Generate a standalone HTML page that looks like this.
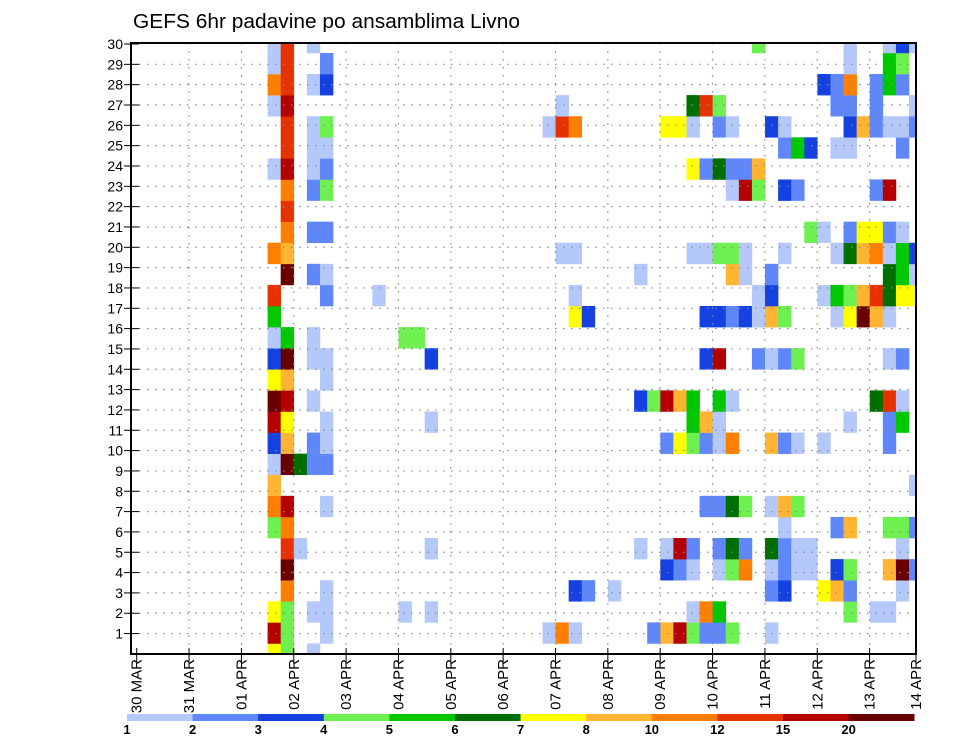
<!DOCTYPE html>
<html>
<head>
<meta charset="utf-8">
<style>
  html, body { margin: 0; padding: 0; background: #ffffff; }
  svg { display: block; font-family: "Liberation Sans", sans-serif; }
</style>
</head>
<body>
<svg id="chart" width="960" height="742" viewBox="0 0 960 742" xmlns="http://www.w3.org/2000/svg">
  <rect x="0" y="0" width="960" height="742" fill="#ffffff"/>
  <text x="133" y="28" font-size="20" textLength="387" lengthAdjust="spacingAndGlyphs" fill="#000">GEFS 6hr padavine po ansamblima Livno</text>
  <defs><clipPath id="plotClip"><rect x="131" y="43" width="785" height="611"/></clipPath></defs>
  <g id="cells" clip-path="url(#plotClip)"></g>
  <g id="grid"></g>
  <g id="axes"></g>
  <g id="legend"></g>
</svg>
<script>
// ---- data ----
const levels = [1, 2, 3, 4, 5, 6, 7, 8, 10, 12, 15, 20];
const levelColors = ["#b4c8fa", "#5f87fa", "#1441e0", "#6ef050", "#00c800", "#006e00", "#ffff00", "#ffb432", "#ff8000", "#e63200", "#b40000", "#690000"];
const dayLabels = ["30 MAR", "31 MAR", "01 APR", "02 APR", "03 APR", "04 APR", "05 APR", "06 APR", "07 APR", "08 APR", "09 APR", "10 APR", "11 APR", "12 APR", "13 APR", "14 APR"];
const yTickLabels = [1,2,3,4,5,6,7,8,9,10,11,12,13,14,15,16,17,18,19,20,21,22,23,24,25,26,27,28,29,30];
// memberSteps[i] = 6-hourly step indices with precipitation for ensemble row i
const memberSteps = [
  [10,11,13],
  [10,11,14,31,32,33,39,40,41,42,43,44,45,48],
  [10,11,13,14,20,22,42,43,44,54,56,57],
  [11,14,33,34,36,48,49,52,53,54,58],
  [11,40,41,42,44,45,46,48,49,50,51,53,54,57,58,59],
  [11,12,22,38,40,41,42,44,45,46,48,49,50,51,58],
  [10,11,49,53,54,57,58,59],
  [10,11,14,43,44,45,46,48,49,50],
  [10,59],
  [10,11,12,13,14],
  [10,11,13,14,40,41,42,43,44,45,48,49,50,52,57],
  [10,11,14,22,42,43,44,54,57,58],
  [10,11,13,38,39,40,41,42,44,45,56,57,58],
  [10,11,14],
  [10,11,13,14,22,43,44,47,48,49,50,57,58],
  [10,11,13,20,21],
  [10,33,34,43,44,45,46,47,48,49,53,54,55,56,57],
  [10,14,18,33,47,48,52,53,54,55,56,57,58,59],
  [11,13,14,38,45,46,48,57,58,59],
  [10,11,32,33,42,43,44,45,46,49,53,54,55,56,57,58,59],
  [11,13,14,51,52,54,55,56,57,58],
  [11],
  [11,13,14,45,46,47,49,50,56,57],
  [10,11,13,14,42,43,44,45,46,47],
  [11,13,14,49,50,51,53,54,58],
  [11,13,14,31,32,33,40,41,42,44,45,48,49,54,55,56,57,58,59],
  [10,11,32,42,43,44,53,54,56,59],
  [10,11,13,14,52,53,54,56,57,58],
  [10,11,14,54,57,58],
  [10,11,13,47,54,57,58,59]
];
// memberPrecip[i] = precipitation (mm/6h) for the matching steps
const memberPrecip = [
  [7.5,4.5,1.5],
  [17,4.5,1.5,1.5,11,1.5,2.5,9,17,4.5,2.5,2.5,4.5,1.5],
  [7.5,4.5,1.5,1.5,1.5,1.5,1.5,11,5.5,4.5,1.5,1.5],
  [11,1.5,3.5,2.5,1.5,2.5,3.5,7.5,9,2.5,1.5],
  [22,3.5,2.5,1.5,1.5,4.5,11,1.5,2.5,1.5,1.5,3.5,4.5,9,22,2.5],
  [13,1.5,1.5,1.5,1.5,17,2.5,2.5,6.5,2.5,6.5,2.5,1.5,1.5,1.5],
  [4.5,11,1.5,2.5,9,4.5,4.5,2.5],
  [11,17,1.5,2.5,2.5,6.5,4.5,1.5,9,4.5],
  [9,1.5],
  [1.5,22,6.5,2.5,2.5],
  [3.5,9,2.5,1.5,2.5,7.5,4.5,2.5,1.5,11,9,2.5,1.5,1.5,2.5],
  [17,7.5,1.5,1.5,5.5,9,1.5,1.5,2.5,5.5],
  [22,17,1.5,3.5,4.5,17,9,5.5,5.5,1.5,6.5,13,1.5],
  [7.5,9,1.5],
  [3.5,22,1.5,1.5,3.5,3.5,17,2.5,1.5,2.5,4.5,1.5,2.5],
  [1.5,5.5,1.5,4.5,4.5],
  [5.5,7.5,3.5,3.5,3.5,2.5,3.5,1.5,9,4.5,1.5,7.5,22,9,1.5],
  [13,2.5,1.5,1.5,1.5,3.5,1.5,5.5,4.5,9,13,6.5,7.5,7.5],
  [22,2.5,1.5,1.5,9,1.5,2.5,6.5,5.5,1.5],
  [11,9,1.5,1.5,1.5,1.5,4.5,4.5,1.5,1.5,1.5,6.5,9,11,1.5,5.5,3.5],
  [11,2.5,2.5,4.5,1.5,2.5,7.5,7.5,2.5,1.5],
  [13],
  [11,2.5,4.5,1.5,17,4.5,3.5,2.5,2.5,17],
  [1.5,17,1.5,2.5,7.5,2.5,6.5,2.5,2.5,9],
  [13,1.5,1.5,2.5,5.5,3.5,1.5,1.5,2.5],
  [13,1.5,4.5,1.5,13,11,7.5,7.5,1.5,2.5,1.5,3.5,1.5,3.5,9,2.5,1.5,1.5,2.5],
  [1.5,17,1.5,6.5,13,4.5,2.5,2.5,2.5,1.5],
  [11,13,1.5,3.5,3.5,2.5,11,2.5,5.5,2.5],
  [1.5,13,2.5,1.5,5.5,4.5],
  [1.5,13,1.5,4.5,1.5,1.5,3.5,1.5]
];

// ---- scales ----
const NS = "http://www.w3.org/2000/svg";
const PLOT = { left: 131, right: 916, top: 43, bottom: 654 };
const X0 = 136.7, STEP_W = 13.09, DAY_W = 52.35;
function xStep(n) { return X0 + n * STEP_W; }         // left edge of 6h cell
function xDay(d) { return X0 + d * DAY_W; }
const MEMBER_H = 21.09;
function yMember(i) { return PLOT.bottom - i * MEMBER_H; } // cell centre
function yLabel(v) { return 44 + (30 - v) * 20.33; }
function colorFor(v) {
  let idx = 0;
  for (let k = 0; k < levels.length; k++) if (v >= levels[k]) idx = k;
  return levelColors[idx];
}
function mk(tag, attrs, parent) {
  const el = document.createElementNS(NS, tag);
  for (const k in attrs) el.setAttribute(k, attrs[k]);
  parent.appendChild(el);
  return el;
}

// ---- cells ----
const cellsG = document.getElementById('cells');
memberSteps.forEach((steps, i) => {
  steps.forEach((n, j) => {
    const r = mk('rect', { x: xStep(n).toFixed(2), y: (yMember(i) - MEMBER_H / 2).toFixed(2), width: STEP_W + 0.3, height: MEMBER_H + 0.3, fill: colorFor(memberPrecip[i][j]) }, cellsG);
    
    
  });
});

// ---- grid ----
const gridG = document.getElementById('grid');
yTickLabels.forEach(v => {
  if (v >= 30) return;
  const l = mk('line', { x1: PLOT.left, x2: PLOT.right, y1: yLabel(v), y2: yLabel(v), stroke: '#8a8a8a', 'stroke-width': 1.2, 'stroke-dasharray': '1.5 6.5' }, gridG);
  
  
});
for (let d = 1; d < 15; d++) {
  const l = mk('line', { x1: xDay(d), x2: xDay(d), y1: PLOT.top, y2: PLOT.bottom, stroke: '#8a8a8a', 'stroke-width': 1.2, 'stroke-dasharray': '1.5 6.5' }, gridG);
  
  
}

// ---- axes ----
const axG = document.getElementById('axes');
const frame = mk('rect', { x: PLOT.left, y: PLOT.top, width: PLOT.right - PLOT.left, height: PLOT.bottom - PLOT.top, fill: 'none', stroke: '#000', 'stroke-width': 2 }, axG);


yTickLabels.forEach(v => {
  const t = mk('line', { x1: 124, x2: 139, y1: yLabel(v), y2: yLabel(v), stroke: '#000', 'stroke-width': 1 }, axG);
  
  
  const tx = mk('text', { x: 123, y: yLabel(v) + 5, 'font-size': 14, 'text-anchor': 'end', fill: '#000' }, axG);
  tx.textContent = v;
  
  
});
dayLabels.forEach((lab, d) => {
  const x = d < 15 ? xDay(d) : PLOT.right;
  const t = mk('line', { x1: x, x2: x, y1: PLOT.bottom - 6, y2: PLOT.bottom + 8, stroke: '#000', 'stroke-width': 1 }, axG);
  
  
  const tx = mk('text', { transform: 'translate(' + (x + 5) + ',659) rotate(-90)', 'font-size': 15, 'text-anchor': 'end', fill: '#000' }, axG);
  tx.textContent = lab;
  
  
});

// ---- legend ----
const lgG = document.getElementById('legend');
const LG_X = 127, LG_W = 65.6;
levelColors.forEach((c, k) => {
  const r = mk('rect', { x: LG_X + k * LG_W, y: 714, width: LG_W + 0.3, height: 7, fill: c }, lgG);
  
  
  const tx = mk('text', { x: LG_X + k * LG_W, y: 734, 'font-size': 13, 'font-weight': 'bold', 'text-anchor': 'middle', fill: '#000' }, lgG);
  tx.textContent = levels[k];
  
  
});
</script>
</body>
</html>
